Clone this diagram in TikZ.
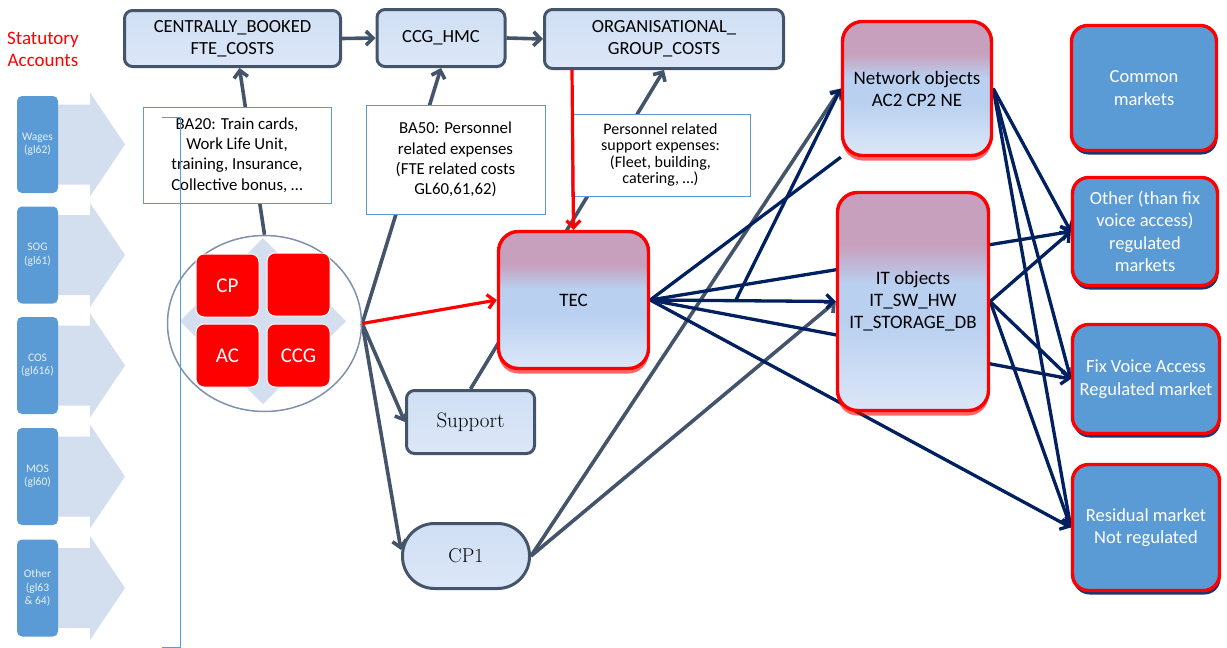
\documentclass[tikz,border=0pt]{standalone}
\usepackage{fontspec}
\setsansfont{Carlito}
\usepackage{xcolor}
\usepackage{tikz}
\usetikzlibrary{shapes.geometric,arrows.meta,shadows,backgrounds,positioning}

\definecolor{slate}{HTML}{44546A}
\definecolor{navy}{HTML}{002060}
\definecolor{accblue}{HTML}{5B9BD5}
\definecolor{chevgray}{HTML}{D3DEEF}
\definecolor{boxtop}{HTML}{D0DFF4}
\definecolor{boxmid}{HTML}{B9D0F0}
\definecolor{boxbot}{HTML}{DCE7F8}
\definecolor{mauve}{HTML}{C7A0BD}
\definecolor{circgray}{HTML}{7F91AB}
\pgfdeclareverticalshading{objshade}{100bp}{color(0bp)=(boxbot); color(25bp)=(boxbot);
  color(45bp)=(boxmid); color(54bp)=(boxmid); color(63bp)=(mauve); color(100bp)=(mauve)}

\begin{document}
\begin{tikzpicture}[
  x=1pt, y=-1pt,
  >={Straight Barb[length=7pt,width=14pt]},
  every node/.style={font=\sffamily, align=center, inner sep=0pt},
  topbox/.style={draw=slate, line width=3pt, rounded corners=8pt,
      top color=boxtop, middle color=boxmid, bottom color=boxbot,
      font=\sffamily\fontsize{18.5}{22}\selectfont},
  note/.style={draw=accblue, line width=0.9pt, fill=white,
      font=\sffamily\fontsize{16.8}{20.3}\selectfont},
  objbox/.style={draw=red, line width=3.4pt, rounded corners=20pt,
      shading=objshade,
      drop shadow={fill=red, shadow xshift=0pt, shadow yshift=-5pt, opacity=.6},
      font=\sffamily\fontsize{19}{22}\selectfont},
  market/.style={draw=red, line width=3.4pt, rounded corners=16pt, fill=accblue,
      text=white, drop shadow={fill=navy, shadow xshift=1pt, shadow yshift=-4pt, opacity=.9},
      font=\sffamily\fontsize{18.5}{22.5}\selectfont},
  acct/.style={fill=accblue, rounded corners=5pt, text=white!85!accblue,
      minimum width=41pt, minimum height=97pt,
      font=\sffamily\fontsize{11.5}{13.5}\selectfont},
  chevron/.style={fill=chevgray},
  redsq/.style={fill=red, draw=white, line width=1pt, rounded corners=8pt,
      minimum size=63pt, text=white, font=\sffamily\fontsize{21}{24}\selectfont},
  grayline/.style={draw=slate, line width=3.6pt},
  navyline/.style={draw=navy, line width=3.3pt},
  redline/.style={draw=red, line width=3.2pt}
]
\useasboundingbox (0,0) rectangle (1227,648);

% Accounts
\node[text=red, font=\sffamily\fontsize{19}{22}\selectfont] (ST) at (43,49) {Statutory\\Accounts};
\foreach \yy/\lbl [count=\i] in {144.5/{Wages\\(gl62)}, 255/{SOG\\(gl61)},
    365.5/{COS\\(gl616)}, 476.5/{MOS\\(gl60)}, 588/{Other\\(gl63\\\& 64)}} {
  \fill[chevron] (58,\yy-40) -- (90,\yy-40) -- (90,\yy-52) -- (125,\yy)
      -- (90,\yy+52) -- (90,\yy+40) -- (58,\yy+40) -- cycle;
  \node[acct] (S\i) at (37.5,\yy) {\lbl};
}

% Cycle
\fill[chevron] (180,321) -- (263,238) -- (346,321) -- (263,404) -- cycle;
\node[ellipse, draw=circgray, line width=1.5pt, minimum width=194pt,
    minimum height=176pt] (CIR) at (264.5,323.5) {};
\node[redsq] (Q1) at (227.5,285.5) {CP};
\node[redsq] (Q2) at (298.5,284.5) {};
\node[redsq] (Q3) at (227.5,355.5) {AC};
\node[redsq] (Q4) at (298.5,355.5) {CCG};

% Nodes
\node[topbox, minimum width=216pt, minimum height=56pt] (CB) at (232.5,38.5) {CENTRALLY\_BOOKED\\FTE\_COSTS};
\node[topbox, minimum width=128pt, minimum height=57pt] (HMC) at (441,38) {CCG\_HMC};
\node[topbox, minimum width=239pt, minimum height=59pt] (OG) at (664,39) {ORGANISATIONAL\_\\GROUP\_COSTS};

\node[note, minimum width=188pt, minimum height=96pt] (BA20) at (237,155)
    {BA20: Train cards,\\Work Life Unit,\\training, Insurance,\\Collective  bonus, \dots};
\node[note, minimum width=179pt, minimum height=109pt] (BA50) at (455.5,159.5)
    {BA50: Personnel\\related expenses\\(FTE related costs\\GL60,61,62)};
\node[note, minimum width=179pt, minimum height=82pt, font=\sffamily\fontsize{16}{16.5}\selectfont] (PRS) at (660.5,155)
    {Personnel related\\support expenses:\\(Fleet, building,\\catering, \dots)};

\node[objbox, minimum width=150pt, minimum height=137pt] (TEC) at (573.5,300) {TEC};
\node[topbox, minimum width=128pt, minimum height=63pt, font=\rmfamily\fontsize{21}{24}\selectfont] (SUP) at (470.5,422) {Support};
\node[topbox, rounded corners=32pt, minimum width=127pt, minimum height=65pt, font=\rmfamily\fontsize{20}{24}\selectfont] (CPO) at (466,556) {CP1};

\node[objbox, minimum width=149pt, minimum height=134pt] (NET) at (917,88.5) {Network objects\\AC2 CP2 NE};
\node[objbox, minimum width=151pt, minimum height=218pt] (IT) at (913,301.5) {IT objects\\IT\_SW\_HW\\IT\_STORAGE\_DB};

\node[market, minimum width=145pt, minimum height=125pt] (CM) at (1144,88) {Common\\markets};
\node[market, minimum width=145pt, minimum height=108pt] (OM) at (1145,231.5) {Other (than fix\\voice access)\\regulated\\markets};
\node[market, minimum width=147pt, minimum height=109pt] (FV) at (1146,379) {Fix Voice Access\\Regulated market};
\node[market, minimum width=147pt, minimum height=126pt] (RM) at (1146,527.5) {Residual market\\Not regulated};

\draw[accblue, line width=1pt] (162,117) -- (180,117) -- (180,647) -- (162,647);
\draw[redline,->] ([xshift=29pt]OG.south west) -- (TEC.north);

% Connectors
\begin{scope}[on background layer]
\draw[grayline,->] (CIR.north) -- ([xshift=7pt]CB.south);
\draw[grayline,->] (CIR.east) -- (HMC.south);
\draw[grayline,->] (CIR.east) -- (SUP.west);
\draw[grayline,->] (CIR.east) -- ([yshift=6pt]CPO.west);
\draw[redline,->] (CIR.east) -- (TEC.west);
\draw[grayline,->] (CB.east) -- (HMC.west);
\draw[grayline,->] (HMC.east) -- (OG.west);
\draw[grayline,->] (SUP.north) -- (OG.south);
\draw[grayline,->] (CPO.east) -- (NET.west);
\draw[grayline,->] (CPO.east) -- (IT.west);
\draw[navyline,->] (TEC.east) -- coordinate[pos=.46] (K) (IT.west);
\draw[navyline,->] (K) -- (NET.west);
\draw[navyline] (TEC.east) -- (NET.south west);
\foreach \m in {OM,FV,RM} {
  \draw[navyline,->] (TEC.east) -- (\m.west);
  \draw[navyline,->] (IT.east) -- (\m.west);
  \draw[navyline,->] (NET.east) -- (\m.west);
}
\end{scope}
\end{tikzpicture}
\end{document}
